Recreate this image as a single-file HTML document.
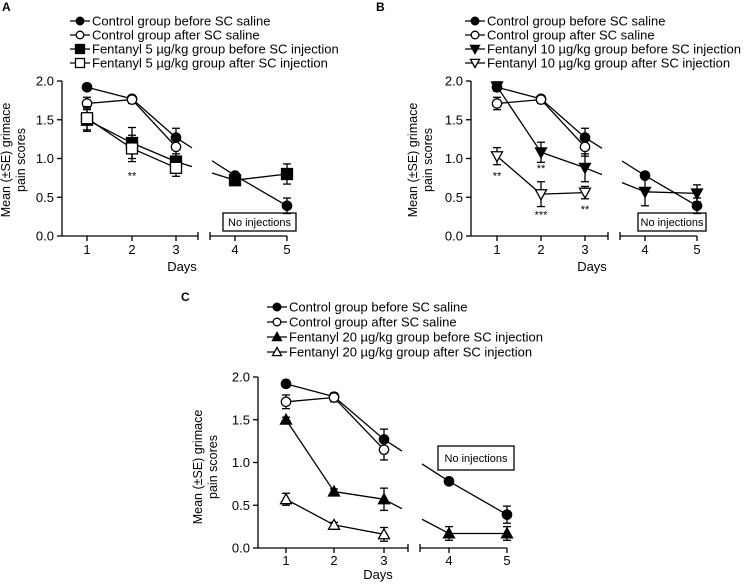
<!DOCTYPE html>
<html><head><meta charset="utf-8"><style>
body{margin:0;background:#fff}
svg{display:block;font-family:"Liberation Sans",sans-serif}
</style></head><body>
<svg id="fig" width="746" height="584" viewBox="0 0 746 584"></svg>
<script>
const days=[1,2,3,4,5];
const yTicks=[0,0.5,1.0,1.5,2.0];
const ctrlBefore=[1.92,1.77,1.27,0.78,0.39];
const ctrlBeforeErr=[0.04,0.03,0.12,0.03,0.1];
const ctrlAfter=[1.71,1.76,1.15];
const ctrlAfterErr=[0.08,0.05,0.12];
const f5Before=[1.5,1.2,0.96,0.72,0.8];
const f5BeforeErr=[0.15,0.2,0.1,0.05,0.13];
const f5After=[1.52,1.13,0.88];
const f5AfterErr=[0.15,0.17,0.11];
const f10Before=[1.93,1.08,0.88,0.57,0.55];
const f10BeforeErr=[0.06,0.13,0.18,0.18,0.11];
const f10After=[1.03,0.54,0.56];
const f10AfterErr=[0.11,0.16,0.08];
const f20Before=[1.5,0.66,0.57,0.17,0.17];
const f20BeforeErr=[0.03,0.03,0.13,0.08,0.08];
const f20After=[0.57,0.27,0.16];
const f20AfterErr=[0.07,0.03,0.08];
const starsA=[{d:2,v:0.78,t:"**"}];
const starsB=[{d:1,v:0.78,t:"**"},{d:2,v:0.88,t:"**"},{d:2,v:0.28,t:"***"},{d:3,v:0.35,t:"**"}];
const starsC=[];
const NS="http://www.w3.org/2000/svg";
const svg=document.getElementById('fig');
function mk(tag,at,parent){const e=document.createElementNS(NS,tag);for(const k in at)e.setAttribute(k,at[k]);(parent||svg).appendChild(e);return e;}
function marker(g,shape,filled,x,y,s){
  const f=filled?'#000':'#fff';let e;
  if(shape==='circle')e=mk('circle',{cx:x,cy:y,r:s*0.85,fill:f,stroke:'#000','stroke-width':1.3},g);
  else if(shape==='square')e=mk('rect',{x:x-s,y:y-s,width:2*s,height:2*s,fill:f,stroke:'#000','stroke-width':1.3},g);
  else if(shape==='tri')e=mk('polygon',{points:`${x},${y-s} ${x-s},${y+s*0.8} ${x+s},${y+s*0.8}`,fill:f,stroke:'#000','stroke-width':1.3},g);
  else e=mk('polygon',{points:`${x},${y+s} ${x-s},${y-s*0.8} ${x+s},${y-s*0.8}`,fill:f,stroke:'#000','stroke-width':1.3},g);
  return e;
}
function panel(P){
  const g=mk('g',{});
  
  
  const X=d=>P.dx[d-1];
  const Y=v=>P.y0+(P.y2-P.y0)*v/2;
  const lt=mk('text',{x:P.lx,y:P.ly,'font-size':12,'font-weight':'bold'},g);lt.textContent=P.id;
  
  P.legend.forEach((L,i)=>{
    const y=P.legY+i*P.legStep;
    const le=mk('g',{},g);
    
    mk('line',{x1:P.legX-10,x2:P.legX+10,y1:y,y2:y,stroke:'#000','stroke-width':1.3},le);
    marker(le,L.shape,L.filled,P.legX,y,4.5);
    const t=mk('text',{x:P.legX+12,y:y+4.5,'font-size':13},le);t.textContent=L.label;
  });
  const ya=mk('g',{},g);
  mk('line',{x1:P.ax,x2:P.ax,y1:Y(2),y2:Y(0),stroke:'#000','stroke-width':1.3},ya);
  yTicks.forEach(v=>{
    mk('line',{x1:P.ax-5,x2:P.ax,y1:Y(v),y2:Y(v),stroke:'#000','stroke-width':1.3},ya);
    const t=mk('text',{x:P.ax-8,y:Y(v)+4.5,'font-size':13,'text-anchor':'end'},ya);t.textContent=v.toFixed(1);
  });
  const yt=mk('text',{transform:`translate(${P.ylx},${P.yly}) rotate(-90)`,'font-size':12.5,'text-anchor':'middle'},g);
  
  const t1=mk('tspan',{x:0,dy:0},yt);t1.textContent='Mean (±SE) grimace';
  const t2=mk('tspan',{x:0,dy:15},yt);t2.textContent='pain scores';
  const xa=mk('g',{},g);
  mk('line',{x1:P.ax,x2:P.b1,y1:Y(0),y2:Y(0),stroke:'#000','stroke-width':1.3},xa);
  mk('line',{x1:P.b2,x2:X(5),y1:Y(0),y2:Y(0),stroke:'#000','stroke-width':1.3},xa);
  mk('line',{x1:P.b1,x2:P.b1,y1:Y(0)-4,y2:Y(0)+4,stroke:'#000','stroke-width':1.3},xa);
  mk('line',{x1:P.b2,x2:P.b2,y1:Y(0)-4,y2:Y(0)+4,stroke:'#000','stroke-width':1.3},xa);
  days.forEach(d=>{
    mk('line',{x1:X(d),x2:X(d),y1:Y(0),y2:Y(0)+5,stroke:'#000','stroke-width':1.3},xa);
    const t=mk('text',{x:X(d),y:Y(0)+P.tko,'font-size':13,'text-anchor':'middle'},xa);t.textContent=d;
  });
  const xt=mk('text',{x:P.dlx,y:Y(0)+P.dko,'font-size':13,'text-anchor':'middle'},g);xt.textContent='Days';
  
  const bx=mk('g',{},g);
  mk('rect',{x:P.box[0],y:P.box[1],width:P.box[2],height:P.box[3],fill:'#fff',stroke:'#000','stroke-width':1.3},bx);
  const bt=mk('text',{x:P.box[0]+P.box[2]/2,y:P.box[1]+P.box[3]/2+4,'font-size':11,'text-anchor':'middle'},bx);bt.textContent='No injections';
  P.series.forEach(S=>{
    const sg=mk('g',{},g);
    
    const pts=S.vals.map((v,i)=>[X(days[i]),Y(v)]);
    for(let i=0;i<pts.length-1;i++){
      const [x1,y1]=pts[i],[x2,y2]=pts[i+1];
      if(i===2){
        const gl=(P.b1-6-x1)/(x2-x1),gr=(P.b2+2-x1)/(x2-x1);
        mk('line',{x1:x1,y1:y1,x2:x1+(x2-x1)*gl,y2:y1+(y2-y1)*gl,stroke:'#000','stroke-width':1.3},sg);
        mk('line',{x1:x1+(x2-x1)*gr,y1:y1+(y2-y1)*gr,x2:x2,y2:y2,stroke:'#000','stroke-width':1.3},sg);
      } else mk('line',{x1,y1,x2,y2,stroke:'#000','stroke-width':1.3},sg);
    }
    S.vals.forEach((v,i)=>{
      const e=S.err[i],x=X(days[i]);
      const ya1=Y(v-e),ya2=Y(v+e);
      mk('line',{x1:x,x2:x,y1:ya1,y2:ya2,stroke:'#000','stroke-width':1.3},sg);
      mk('line',{x1:x-4,x2:x+4,y1:ya1,y2:ya1,stroke:'#000','stroke-width':1.3},sg);
      mk('line',{x1:x-4,x2:x+4,y1:ya2,y2:ya2,stroke:'#000','stroke-width':1.3},sg);
    });
    S.vals.forEach((v,i)=>{
      const m=marker(sg,S.shape,S.filled,X(days[i]),Y(v),5.5);
      
      
    });
  });
  P.stars.forEach(s=>{
    const t=mk('text',{x:X(s.d),y:Y(s.v)+4,'font-size':11,'text-anchor':'middle'},g);t.textContent=s.t;
    
  });
}
const common=[
 {name:'control-before',vals:ctrlBefore,err:ctrlBeforeErr,shape:'circle',filled:true},
 {name:'control-after',vals:ctrlAfter,err:ctrlAfterErr,shape:'circle',filled:false}];
panel({id:'A',lx:2,ly:11,legX:80,legY:21,legStep:14,ax:62,y0:236,y2:81,dx:[87,132,176,235,287],b1:198,b2:210,
 ylx:10,yly:160,dlx:182,tko:18,dko:35,box:[223,213,73,18],stars:starsA,
 legend:[{shape:'circle',filled:true,label:'Control group before SC saline'},{shape:'circle',filled:false,label:'Control group after SC saline'},
  {shape:'square',filled:true,label:'Fentanyl 5 µg/kg group before SC injection'},{shape:'square',filled:false,label:'Fentanyl 5 µg/kg group after SC injection'}],
 series:[...common,{name:'fentanyl5-before',vals:f5Before,err:f5BeforeErr,shape:'square',filled:true},{name:'fentanyl5-after',vals:f5After,err:f5AfterErr,shape:'square',filled:false}]});
panel({id:'B',lx:376,ly:11,legX:475,legY:21,legStep:14,ax:471,y0:236,y2:81,dx:[497,541,585,645,697],b1:608,b2:620,
 ylx:417,yly:160,dlx:592,tko:18,dko:35,box:[638,213,68,18],stars:starsB,
 legend:[{shape:'circle',filled:true,label:'Control group before SC saline'},{shape:'circle',filled:false,label:'Control group after SC saline'},
  {shape:'vtri',filled:true,label:'Fentanyl 10 µg/kg group before SC injection'},{shape:'vtri',filled:false,label:'Fentanyl 10 µg/kg group after SC injection'}],
 series:[...common,{name:'fentanyl10-before',vals:f10Before,err:f10BeforeErr,shape:'vtri',filled:true},{name:'fentanyl10-after',vals:f10After,err:f10AfterErr,shape:'vtri',filled:false}]});
panel({id:'C',lx:181,ly:301,legX:277,legY:307,legStep:15,ax:258,y0:548,y2:377,dx:[286,334,384,449,507],b1:408,b2:420,
 ylx:202,yly:467,dlx:378,tko:17,dko:31,box:[438,446,76,24],stars:starsC,
 legend:[{shape:'circle',filled:true,label:'Control group before SC saline'},{shape:'circle',filled:false,label:'Control group after SC saline'},
  {shape:'tri',filled:true,label:'Fentanyl 20 µg/kg group before SC injection'},{shape:'tri',filled:false,label:'Fentanyl 20 µg/kg group after SC injection'}],
 series:[...common,{name:'fentanyl20-before',vals:f20Before,err:f20BeforeErr,shape:'tri',filled:true},{name:'fentanyl20-after',vals:f20After,err:f20AfterErr,shape:'tri',filled:false}]});
</script>
</body></html>
